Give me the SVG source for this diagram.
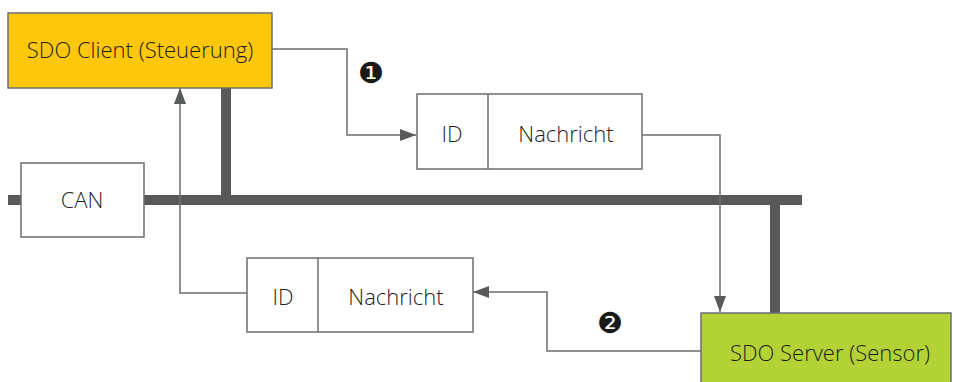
<svg xmlns="http://www.w3.org/2000/svg" width="953" height="382" viewBox="0 0 953 382">
<defs>
<style>
.box{stroke:#6d6e70;stroke-width:1.5}
.msg{fill:#fff;stroke:#6d6e70;stroke-width:1.5}
.bus{stroke:#58595b;stroke-width:10;fill:none}
.conn{stroke:#6d6e70;stroke-width:1.5;fill:none}
.t{font-family:"Open Sans","Noto Sans",sans-serif;font-size:22px;font-weight:300;fill:#1e1e1e;text-anchor:middle}
.num{font-family:"DejaVu Sans",sans-serif;font-size:29px;fill:#1a1a1a;text-anchor:middle}
</style>
<marker id="arr" viewBox="0 0 16 12" refX="16" refY="6" markerWidth="16" markerHeight="12" markerUnits="userSpaceOnUse" orient="auto">
<path d="M0,0 L16,6 L0,12 Z" fill="#58595b"/>
</marker>
</defs>
<rect width="953" height="382" fill="#fff"/>
<g id="bus-lines">
<line class="bus" x1="8" y1="200" x2="802" y2="200"/>
<line class="bus" x1="226" y1="88" x2="226" y2="200"/>
<line class="bus" x1="775" y1="200" x2="775" y2="313"/>
</g>
<g id="connectors">
<polyline class="conn" points="272,49 347,49 347,135 416,135" marker-end="url(#arr)"/>
<polyline class="conn" points="642,135 720,135 720,312" marker-end="url(#arr)"/>
<polyline class="conn" points="701,351 547,351 547,292 473,292" marker-end="url(#arr)"/>
<polyline class="conn" points="247,293 180,293 180,88" marker-end="url(#arr)"/>
</g>
<g id="client">
<rect class="box" x="8" y="13" width="264" height="75" fill="#fdc70c"/>
<text class="t" x="140" y="58">SDO Client (Steuerung)</text>
</g>
<g id="can">
<rect class="msg" x="21" y="163" width="123" height="74"/>
<text class="t" x="82" y="208">CAN</text>
</g>
<g id="msg1">
<rect class="msg" x="417" y="94" width="225" height="75"/>
<line class="msg" x1="488" y1="94" x2="488" y2="169"/>
<text class="t" x="452" y="142">ID</text>
<text class="t" x="566" y="142">Nachricht</text>
</g>
<g id="msg2">
<rect class="msg" x="247" y="258" width="226" height="74"/>
<line class="msg" x1="318" y1="258" x2="318" y2="332"/>
<text class="t" x="283" y="305">ID</text>
<text class="t" x="396" y="305">Nachricht</text>
</g>
<g id="server">
<rect class="box" x="701" y="313" width="250" height="72" fill="#b2d235"/>
<text class="t" x="830" y="361">SDO Server (Sensor)</text>
</g>
<g id="labels">
<text class="num" x="371" y="83">❶</text>
<text class="num" x="610" y="333">❷</text>
</g>
</svg>
